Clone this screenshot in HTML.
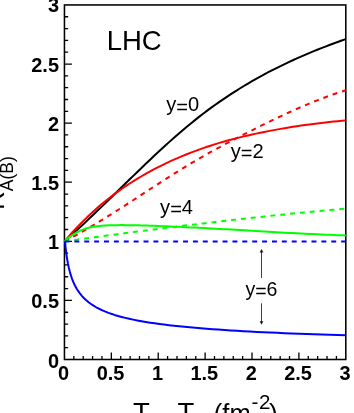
<!DOCTYPE html>
<html><head><meta charset="utf-8"><title>R_A(B) LHC</title>
<style>
html,body{margin:0;padding:0;background:#fff;overflow:hidden}
svg{display:block;will-change:transform}
text{font-family:"Liberation Sans",sans-serif;fill:#000}
</style></head><body>
<svg width="354" height="413" viewBox="0 0 354 413">
<rect width="354" height="413" fill="#fff"/>
<g stroke="#000" fill="none">
<rect x="64.45" y="4.95" width="281.35" height="354.55" stroke-width="1.55"/>
<path d="M64.45,347.68h3.7 M73.83,359.5v-3.5 M64.45,335.86h3.7 M83.21,359.5v-3.5 M64.45,324.05h3.7 M92.59,359.5v-3.5 M64.45,312.23h3.7 M101.96,359.5v-3.5 M64.45,300.41h7.5 M111.34,359.5v-7 M64.45,288.59h3.7 M120.72,359.5v-3.5 M64.45,276.77h3.7 M130.10,359.5v-3.5 M64.45,264.95h3.7 M139.48,359.5v-3.5 M64.45,253.13h3.7 M148.86,359.5v-3.5 M64.45,241.32h7.5 M158.23,359.5v-7 M64.45,229.50h3.7 M167.61,359.5v-3.5 M64.45,217.68h3.7 M176.99,359.5v-3.5 M64.45,205.86h3.7 M186.37,359.5v-3.5 M64.45,194.04h3.7 M195.75,359.5v-3.5 M64.45,182.22h7.5 M205.12,359.5v-7 M64.45,170.41h3.7 M214.50,359.5v-3.5 M64.45,158.59h3.7 M223.88,359.5v-3.5 M64.45,146.77h3.7 M233.26,359.5v-3.5 M64.45,134.95h3.7 M242.64,359.5v-3.5 M64.45,123.13h7.5 M252.02,359.5v-7 M64.45,111.31h3.7 M261.40,359.5v-3.5 M64.45,99.50h3.7 M270.77,359.5v-3.5 M64.45,87.68h3.7 M280.15,359.5v-3.5 M64.45,75.86h3.7 M289.53,359.5v-3.5 M64.45,64.04h7.5 M298.91,359.5v-7 M64.45,52.22h3.7 M308.29,359.5v-3.5 M64.45,40.40h3.7 M317.67,359.5v-3.5 M64.45,28.59h3.7 M327.04,359.5v-3.5 M64.45,16.77h3.7 M336.42,359.5v-3.5" stroke-width="1.3"/>
</g>
<g fill="none" stroke-width="2" stroke-linejoin="round">
<path d="M64.50,241.30 L68.58,237.67 L72.65,233.99 L76.73,230.26 L80.81,226.49 L84.88,222.68 L88.96,218.83 L93.04,214.95 L97.11,211.04 L101.19,207.11 L105.27,203.16 L109.34,199.20 L113.42,195.23 L117.50,191.25 L121.58,187.27 L125.65,183.29 L129.73,179.31 L133.81,175.35 L137.88,171.41 L141.96,167.48 L146.04,163.57 L150.11,159.70 L154.19,155.85 L158.27,152.05 L162.34,148.28 L166.42,144.56 L170.50,140.88 L174.57,137.26 L178.65,133.70 L182.73,130.20 L186.80,126.76 L190.88,123.40 L194.96,120.11 L199.03,116.89 L203.11,113.75 L207.19,110.67 L211.27,107.67 L215.34,104.73 L219.42,101.87 L223.50,99.07 L227.57,96.33 L231.65,93.66 L235.73,91.05 L239.80,88.50 L243.88,86.00 L247.96,83.57 L252.03,81.20 L256.11,78.87 L260.19,76.61 L264.26,74.39 L268.34,72.23 L272.42,70.12 L276.49,68.05 L280.57,66.04 L284.65,64.07 L288.72,62.14 L292.80,60.26 L296.88,58.42 L300.96,56.62 L305.03,54.86 L309.11,53.13 L313.19,51.45 L317.26,49.80 L321.34,48.18 L325.42,46.59 L329.49,45.04 L333.57,43.52 L337.65,42.02 L341.72,40.56 L345.80,39.12" stroke="#000"/>
<path d="M64.50,241.30 L68.58,236.58 L72.65,232.04 L76.73,227.65 L80.81,223.43 L84.88,219.37 L88.96,215.45 L93.04,211.69 L97.11,208.06 L101.19,204.57 L105.27,201.20 L109.34,197.97 L113.42,194.85 L117.50,191.85 L121.58,188.96 L125.65,186.18 L129.73,183.50 L133.81,180.91 L137.88,178.42 L141.96,176.01 L146.04,173.68 L150.11,171.42 L154.19,169.24 L158.27,167.13 L162.34,165.09 L166.42,163.12 L170.50,161.21 L174.57,159.37 L178.65,157.59 L182.73,155.87 L186.80,154.21 L190.88,152.61 L194.96,151.07 L199.03,149.58 L203.11,148.14 L207.19,146.76 L211.27,145.43 L215.34,144.14 L219.42,142.90 L223.50,141.71 L227.57,140.56 L231.65,139.46 L235.73,138.39 L239.80,137.36 L243.88,136.37 L247.96,135.42 L252.03,134.50 L256.11,133.61 L260.19,132.76 L264.26,131.93 L268.34,131.13 L272.42,130.36 L276.49,129.61 L280.57,128.89 L284.65,128.19 L288.72,127.51 L292.80,126.85 L296.88,126.21 L300.96,125.60 L305.03,125.01 L309.11,124.45 L313.19,123.91 L317.26,123.39 L321.34,122.90 L325.42,122.44 L329.49,122.00 L333.57,121.58 L337.65,121.19 L341.72,120.83 L345.80,120.49" stroke="#f00"/>
<path d="M64.50,241.30 L68.58,239.18 L72.65,237.00 L76.73,234.78 L80.81,232.50 L84.88,230.18 L88.96,227.81 L93.04,225.40 L97.11,222.95 L101.19,220.48 L105.27,217.96 L109.34,215.43 L113.42,212.86 L117.50,210.27 L121.58,207.67 L125.65,205.05 L129.73,202.41 L133.81,199.77 L137.88,197.11 L141.96,194.46 L146.04,191.80 L150.11,189.14 L154.19,186.49 L158.27,183.85 L162.34,181.22 L166.42,178.60 L170.50,176.00 L174.57,173.43 L178.65,170.88 L182.73,168.35 L186.80,165.86 L190.88,163.41 L194.96,160.99 L199.03,158.61 L203.11,156.27 L207.19,153.97 L211.27,151.71 L215.34,149.47 L219.42,147.26 L223.50,145.08 L227.57,142.92 L231.65,140.78 L235.73,138.65 L239.80,136.54 L243.88,134.44 L247.96,132.36 L252.03,130.29 L256.11,128.24 L260.19,126.20 L264.26,124.18 L268.34,122.18 L272.42,120.20 L276.49,118.24 L280.57,116.31 L284.65,114.40 L288.72,112.52 L292.80,110.67 L296.88,108.85 L300.96,107.06 L305.03,105.31 L309.11,103.60 L313.19,101.93 L317.26,100.31 L321.34,98.73 L325.42,97.19 L329.49,95.71 L333.57,94.27 L337.65,92.89 L341.72,91.57 L345.80,90.30" stroke="#f00" stroke-dasharray="4.94,4.94"/>
<path d="M64.50,241.30 L68.58,237.72 L72.65,234.74 L76.73,232.30 L80.81,230.35 L84.88,228.82 L88.96,227.66 L93.04,226.81 L97.11,226.21 L101.19,225.80 L105.27,225.52 L109.34,225.33 L113.42,225.20 L117.50,225.14 L121.58,225.12 L125.65,225.15 L129.73,225.20 L133.81,225.28 L137.88,225.37 L141.96,225.48 L146.04,225.59 L150.11,225.71 L154.19,225.84 L158.27,225.99 L162.34,226.14 L166.42,226.29 L170.50,226.46 L174.57,226.63 L178.65,226.81 L182.73,227.00 L186.80,227.19 L190.88,227.39 L194.96,227.59 L199.03,227.80 L203.11,228.01 L207.19,228.23 L211.27,228.45 L215.34,228.68 L219.42,228.91 L223.50,229.14 L227.57,229.37 L231.65,229.60 L235.73,229.84 L239.80,230.08 L243.88,230.32 L247.96,230.56 L252.03,230.79 L256.11,231.03 L260.19,231.27 L264.26,231.51 L268.34,231.74 L272.42,231.98 L276.49,232.21 L280.57,232.43 L284.65,232.66 L288.72,232.88 L292.80,233.10 L296.88,233.31 L300.96,233.52 L305.03,233.72 L309.11,233.92 L313.19,234.11 L317.26,234.30 L321.34,234.48 L325.42,234.65 L329.49,234.82 L333.57,234.98 L337.65,235.13 L341.72,235.27 L345.80,235.40" stroke="#0f0"/>
<path d="M64.50,241.30 L68.58,240.74 L72.65,240.19 L76.73,239.64 L80.81,239.08 L84.88,238.53 L88.96,237.98 L93.04,237.44 L97.11,236.89 L101.19,236.34 L105.27,235.80 L109.34,235.26 L113.42,234.72 L117.50,234.18 L121.58,233.64 L125.65,233.11 L129.73,232.58 L133.81,232.05 L137.88,231.52 L141.96,230.99 L146.04,230.47 L150.11,229.95 L154.19,229.43 L158.27,228.91 L162.34,228.40 L166.42,227.88 L170.50,227.37 L174.57,226.87 L178.65,226.36 L182.73,225.86 L186.80,225.36 L190.88,224.87 L194.96,224.37 L199.03,223.88 L203.11,223.40 L207.19,222.91 L211.27,222.43 L215.34,221.95 L219.42,221.48 L223.50,221.01 L227.57,220.54 L231.65,220.08 L235.73,219.62 L239.80,219.16 L243.88,218.70 L247.96,218.25 L252.03,217.81 L256.11,217.37 L260.19,216.93 L264.26,216.49 L268.34,216.06 L272.42,215.63 L276.49,215.21 L280.57,214.79 L284.65,214.38 L288.72,213.97 L292.80,213.56 L296.88,213.16 L300.96,212.76 L305.03,212.37 L309.11,211.98 L313.19,211.60 L317.26,211.22 L321.34,210.85 L325.42,210.48 L329.49,210.11 L333.57,209.75 L337.65,209.40 L341.72,209.05 L345.80,208.70" stroke="#0f0" stroke-dasharray="4.94,4.94"/>
<path d="M64.5,241.4 L345.8,241.4" stroke="#00f" stroke-dasharray="4.94,4.94"/>
<path d="M65.00,241.30 L65.06,241.96 L65.24,243.85 L65.53,246.77 L65.94,250.43 L66.47,254.54 L67.12,258.86 L67.89,263.20 L68.77,267.46 L69.78,271.53 L70.90,275.39 L72.14,279.01 L73.49,282.40 L74.97,285.55 L76.56,288.48 L78.27,291.20 L80.10,293.73 L82.04,296.09 L84.11,298.28 L86.29,300.33 L88.59,302.24 L91.01,304.02 L93.55,305.69 L96.20,307.26 L98.97,308.73 L101.86,310.12 L104.87,311.43 L108.00,312.66 L111.24,313.82 L114.60,314.92 L118.08,315.97 L121.68,316.96 L125.39,317.90 L129.23,318.79 L133.18,319.64 L137.25,320.45 L141.44,321.22 L145.74,321.96 L150.17,322.67 L154.71,323.34 L159.37,323.99 L164.14,324.61 L169.04,325.20 L174.05,325.77 L179.18,326.32 L184.43,326.85 L189.80,327.35 L195.29,327.84 L200.89,328.31 L206.61,328.77 L212.45,329.20 L218.40,329.62 L224.48,330.03 L230.67,330.43 L236.98,330.81 L243.41,331.18 L249.96,331.53 L256.62,331.88 L263.41,332.21 L270.31,332.54 L277.33,332.85 L284.46,333.16 L291.72,333.45 L299.09,333.74 L306.58,334.02 L314.19,334.29 L321.91,334.56 L329.76,334.82 L337.72,335.07 L345.80,335.31" stroke="#00f"/>
</g>
<text transform="translate(59.00,11.85) scale(0.95,1)" font-size="21.0" text-anchor="end" font-weight="bold">3</text>
<text transform="translate(59.00,71.64) scale(0.95,1)" font-size="21.0" text-anchor="end" font-weight="bold">2.5</text>
<text transform="translate(59.00,130.73) scale(0.95,1)" font-size="21.0" text-anchor="end" font-weight="bold">2</text>
<text transform="translate(59.00,189.82) scale(0.95,1)" font-size="21.0" text-anchor="end" font-weight="bold">1.5</text>
<text transform="translate(59.00,248.92) scale(0.95,1)" font-size="21.0" text-anchor="end" font-weight="bold">1</text>
<text transform="translate(59.00,308.01) scale(0.95,1)" font-size="21.0" text-anchor="end" font-weight="bold">0.5</text>
<text transform="translate(59.00,367.70) scale(0.95,1)" font-size="21.0" text-anchor="end" font-weight="bold">0</text>
<text transform="translate(63.65,379.60) scale(0.95,1)" font-size="21.0" text-anchor="middle" font-weight="bold">0</text>
<text transform="translate(110.54,379.60) scale(0.95,1)" font-size="21.0" text-anchor="middle" font-weight="bold">0.5</text>
<text transform="translate(157.43,379.60) scale(0.95,1)" font-size="21.0" text-anchor="middle" font-weight="bold">1</text>
<text transform="translate(204.32,379.60) scale(0.95,1)" font-size="21.0" text-anchor="middle" font-weight="bold">1.5</text>
<text transform="translate(251.22,379.60) scale(0.95,1)" font-size="21.0" text-anchor="middle" font-weight="bold">2</text>
<text transform="translate(298.11,379.60) scale(0.95,1)" font-size="21.0" text-anchor="middle" font-weight="bold">2.5</text>
<text transform="translate(345.00,379.60) scale(0.95,1)" font-size="21.0" text-anchor="middle" font-weight="bold">3</text>
<text transform="translate(106.70,49.70) scale(1.0,1)" font-size="27.5" text-anchor="start">LHC</text>
<text transform="translate(166.20,111.40) scale(0.975,1)" font-size="20.6" text-anchor="start">y<tspan dy="2.1">=</tspan><tspan dy="-2.1">0</tspan></text>
<text transform="translate(230.80,157.70) scale(0.975,1)" font-size="20.6" text-anchor="start">y<tspan dy="2.1">=</tspan><tspan dy="-2.1">2</tspan></text>
<text transform="translate(160.10,214.30) scale(0.975,1)" font-size="20.6" text-anchor="start">y<tspan dy="2.1">=</tspan><tspan dy="-2.1">4</tspan></text>
<text transform="translate(245.40,295.70) scale(0.95,1)" font-size="20.6" text-anchor="start">y<tspan dy="2.1">=</tspan><tspan dy="-2.1">6</tspan></text>
<g stroke="#000" stroke-width="0.75" fill="none">
<path d="M261.5,278 V250.5 M261.5,303.3 V323.2"/>
</g>
<path d="M261.5,248.9 L259.6,252.4 L263.4,252.4 Z M261.5,324.8 L259.6,321.3 L263.4,321.3 Z" fill="#000" opacity="0.85"/>
<g transform="translate(3.5,210) rotate(-90)"><text x="0" y="0" font-size="26">R</text><text x="18.8" y="9" font-size="17.5">A(B)</text></g>
<text transform="translate(133.00,421.90) scale(1.0,1)" font-size="27.5" text-anchor="start">T</text>
<text transform="translate(177.50,421.90) scale(1.0,1)" font-size="27.5" text-anchor="start">T</text>
<text transform="translate(213.80,422.00) scale(0.985,1)" font-size="26" text-anchor="start">(fm</text>
<text transform="translate(251.60,409.30) scale(1.0,1)" font-size="20.6" text-anchor="start">-</text>
<text transform="translate(259.00,409.30) scale(1.0,1)" font-size="20.6" text-anchor="start">2</text>
<text transform="translate(269.00,422.00) scale(1.0,1)" font-size="26" text-anchor="start">)</text>
</svg></body></html>
